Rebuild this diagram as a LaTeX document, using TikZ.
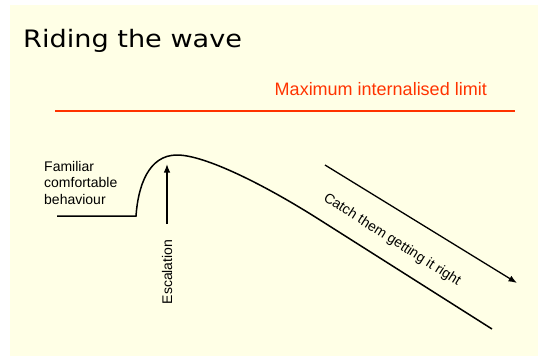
\documentclass[tikz,border=0pt]{standalone}
\usepackage{fontspec}
\setmainfont{Liberation Sans}
\newfontfamily\titlefont{DejaVu Sans}
\usetikzlibrary{arrows.meta}
\definecolor{bgyellow}{RGB}{255,255,230}
\definecolor{limitred}{RGB}{255,51,0}
\begin{document}
\begin{tikzpicture}[x=1pt,y=-1pt,
  curve/.style={line width=1.5pt,black},
  arr/.style={line width=1.3pt,black,-{Latex[length=8.5pt,width=6.5pt]}},
  lbl/.style={font=\fontsize{14}{16.5}\selectfont,inner sep=0pt,align=left}]
\useasboundingbox (0,0) rectangle (538,356);
\fill[bgyellow] (10,5) rectangle (538,356);
\node[anchor=base west,inner sep=0pt,font=\titlefont\fontsize{24}{28}\selectfont,xscale=1.13,transform shape] (title) at (23,47.5) {Riding the wave};
\node[anchor=base east,inner sep=0pt,text=limitred,font=\fontsize{18}{20}\selectfont] (limitlbl) at (487,95) {Maximum internalised limit};
\coordinate (limA) at (55,111);
\coordinate (limB) at (515,111);
\draw[limitred,line width=1.5pt] (limA) -- (limB);
\node[lbl,anchor=north west] (familiar) at (44,161) {Familiar\\comfortable\\behaviour};
\coordinate (flatA) at (57,216);
\coordinate (flatB) at (136,216);
\coordinate (peak) at (177,155);
\coordinate (bend) at (320,220);
\coordinate (endp) at (492,329);
\draw[curve] (flatA) -- (flatB) .. controls (138,187) and (148,155) .. (peak) .. controls (205,155) and (265,185) .. (bend) -- (endp);
\coordinate (escB) at (167,224);
\coordinate (escT) at (167,164);
\draw[arr] (escB) -- (escT);
\node[lbl,rotate=90,anchor=center] (esc) at (167,272) {Escalation};
\coordinate (catchA) at (325,165);
\coordinate (catchB) at (517,283);
\draw[arr] (catchA) -- (catchB);
\node[lbl,rotate=-32.5,anchor=center] (catch) at (392,240) {Catch them getting it right};
\end{tikzpicture}
\end{document}
